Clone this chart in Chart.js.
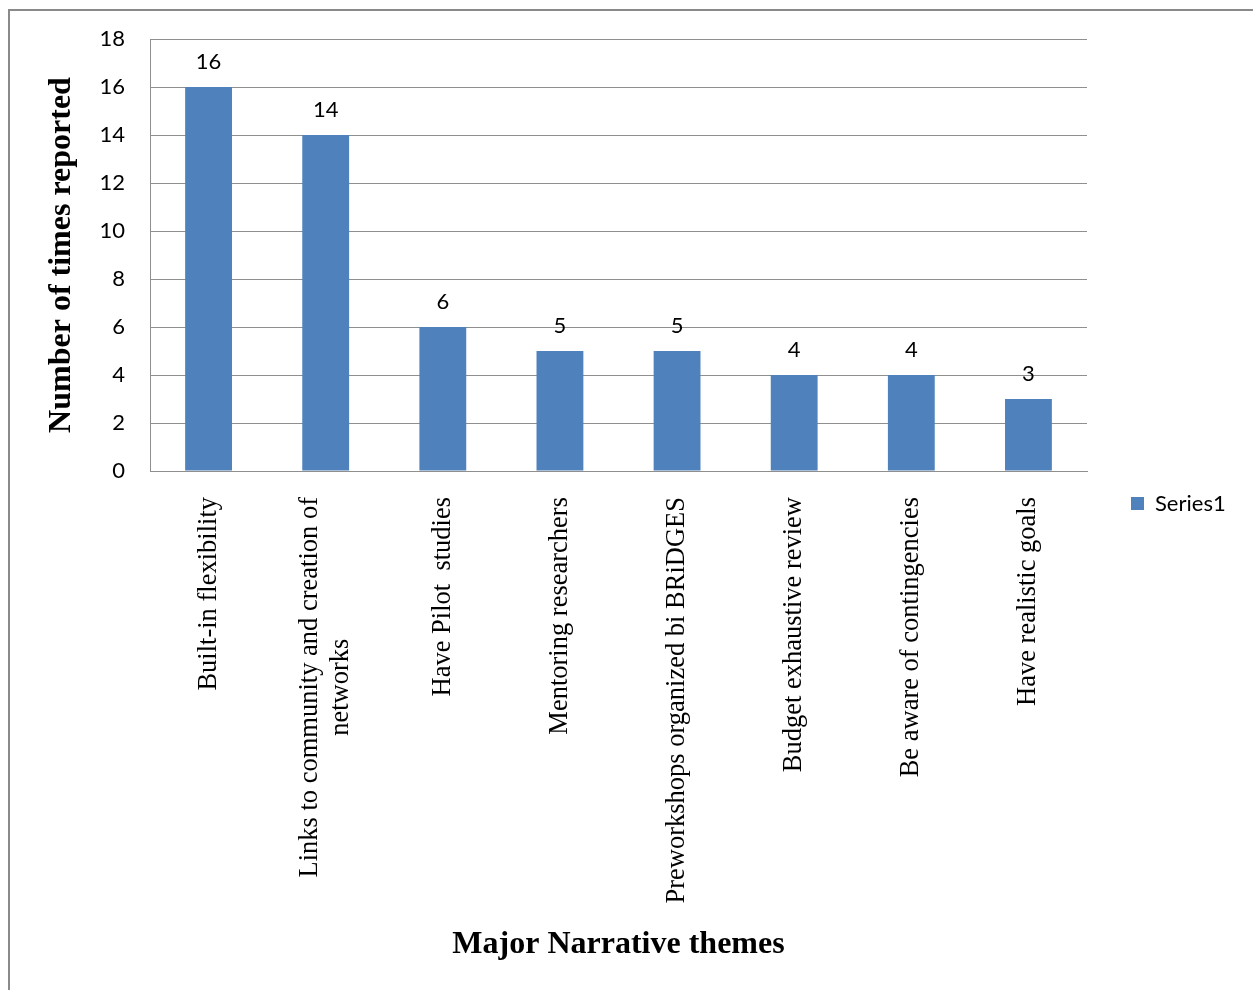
<!DOCTYPE html>
<html>
<head>
<meta charset="utf-8">
<script src="https://cdn.jsdelivr.net/npm/chart.js@4.4.1/dist/chart.umd.min.js"></script>
<style>
  html, body { margin: 0; padding: 0; background: #fff; overflow: hidden; width: 1253px; height: 990px; }
  #frame { position: absolute; left: 8px; top: 9px; width: 1300px; height: 1000px;
           border-left: 2px solid #8a8a8a; border-top: 2px solid #8a8a8a; }
  #wrap { position: absolute; left: 0; top: 0; width: 1253px; height: 968px; }
</style>
</head>
<body>
<div id="frame"></div>
<div id="wrap"><canvas id="c"></canvas></div>
<script>
const categories = [
  ["Built-in flexibility"],
  ["Links to community and creation of", "networks"],
  ["Have Pilot  studies"],
  ["Mentoring researchers"],
  ["Preworkshops organized bi BRiDGES"],
  ["Budget exhaustive review"],
  ["Be aware of contingencies"],
  ["Have realistic goals"]
];
const seriesName = "Series1";
const seriesValues = [16, 14, 6, 5, 5, 4, 4, 3];
const yTicks = [0, 2, 4, 6, 8, 10, 12, 14, 16, 18];
const yTitle = "Number of times reported";
const xTitle = "Major Narrative themes";

const BAR = "#4F81BD";
const GRID = "#8f8f8f";
const SANS = "Lato, 'Open Sans', sans-serif";
const SERIF = "'Liberation Serif', 'DejaVu Serif', serif";

// legend geometry helpers
const LEG_FONT = 22, LEG_PAD = 44, LEG_BOX = 13;
const mctx = document.createElement('canvas').getContext('2d');
mctx.font = LEG_FONT + "px " + SANS;
const legTextW = mctx.measureText(seriesName).width;
const legendWidth = LEG_PAD + LEG_BOX + LEG_FONT / 2 + legTextW + 10;
const padRight = Math.max(0, 1253 - 1087 - legendWidth);

const valueLabels = {
  id: 'valueLabels',
  afterDatasetsDraw(chart) {
    const ctx = chart.ctx;
    const meta = chart.getDatasetMeta(0);
    ctx.save();
    ctx.font = "22px " + SANS;
    ctx.fillStyle = "#000";
    ctx.textAlign = "center";
    ctx.textBaseline = "middle";
    meta.data.forEach((bar, i) => {
      ctx.fillText(String(chart.data.datasets[0].data[i]), bar.x, bar.y - 25);
    });
    ctx.restore();
  }
};

const categoryLabels = {
  id: 'categoryLabels',
  afterDraw(chart) {
    const ctx = chart.ctx;
    const xs = chart.scales.x;
    const topY = xs.top + 26;
    const lineH = 31;
    ctx.save();
    ctx.font = "26.5px " + SERIF;
    ctx.fillStyle = "#000";
    ctx.textAlign = "center";
    ctx.textBaseline = "middle";
    chart.data.labels.forEach((lab, i) => {
      const lines = Array.isArray(lab) ? lab : [lab];
      const x = xs.getPixelForTick(i);
      const maxW = Math.max(...lines.map(l => ctx.measureText(l).width));
      ctx.save();
      ctx.translate(x, topY);
      ctx.rotate(-Math.PI / 2);
      lines.forEach((l, j) => {
        const off = (j - (lines.length - 1) / 2) * lineH;
        ctx.fillText(l, -maxW / 2, off);
      });
      ctx.restore();
    });
    ctx.restore();
  }
};

new Chart(document.getElementById('c'), {
  type: 'bar',
  data: {
    labels: categories,
    datasets: [{
      label: seriesName,
      data: seriesValues,
      backgroundColor: BAR,
      borderWidth: 0,
      barPercentage: 0.4,
      categoryPercentage: 1.0
    }]
  },
  options: {
    responsive: true,
    maintainAspectRatio: false,
    animation: false,
    layout: { padding: { left: 0, top: 39, bottom: 0, right: padRight } },
    plugins: {
      tooltip: { enabled: false },
      legend: {
        display: true,
        position: 'right',
        align: 'center',
        labels: {
          boxWidth: LEG_BOX,
          boxHeight: LEG_BOX,
          padding: LEG_PAD,
          color: '#000',
          font: { family: SANS, size: LEG_FONT }
        }
      }
    },
    scales: {
      x: {
        grid: { display: false, drawTicks: false },
        border: { display: true, color: GRID, width: 1 },
        ticks: { display: false },
        title: {
          display: true,
          text: xTitle,
          color: '#000',
          font: { family: SERIF, size: 32, weight: 'bold' },
          padding: { top: 0, bottom: 4 }
        },
        afterFit(scale) { scale.height = 497; }
      },
      y: {
        min: 0,
        max: 18,
        afterBuildTicks(scale) { scale.ticks = yTicks.map(v => ({ value: v })); },
        grid: { color: GRID, lineWidth: 1, drawTicks: false },
        border: { display: true, color: GRID, width: 1 },
        ticks: {
          padding: 25,
          color: '#000',
          font: { family: SANS, size: 22 }
        },
        title: {
          display: true,
          text: yTitle,
          color: '#000',
          font: { family: SERIF, size: 32, weight: 'bold' },
          padding: { top: 43, bottom: 0 }
        },
        afterFit(scale) { scale.width = 150; }
      }
    }
  },
  plugins: [valueLabels, categoryLabels]
});
</script>
</body>
</html>
